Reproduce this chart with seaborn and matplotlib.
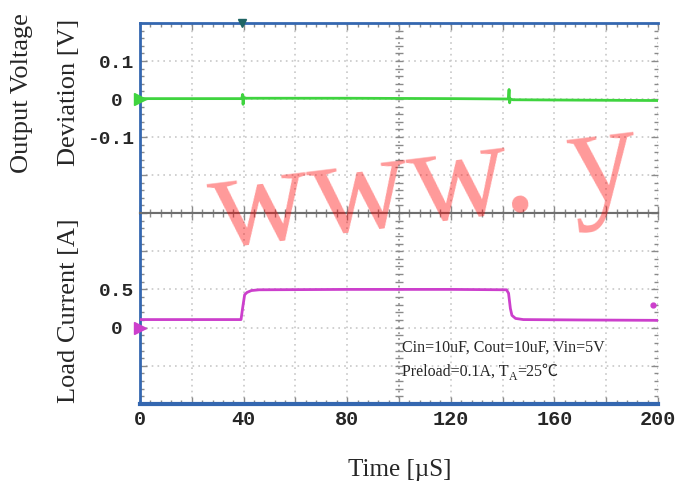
"""Load transient scope capture: output voltage deviation and load current."""

import numpy as np
import pandas as pd
import matplotlib
matplotlib.use('Agg')
import matplotlib.pyplot as plt
from matplotlib.ticker import MultipleLocator
import seaborn as sns

# channel 1: output voltage deviation [V]
time_v = [0, 20, 39.3, 39.6, 39.8, 40.1, 41, 80, 120, 142.2, 142.5, 142.7, 143.0, 144, 170, 200]
dev_v = [0.001, 0.001, 0.001, 0.012, -0.014, 0.004, 0.002, 0.002, 0.001, 0.0, 0.025, -0.01, 0.0, -0.002, -0.003, -0.004]

# channel 2: load current [A]
time_i = [0, 20, 39.0, 39.6, 40.4, 41.3, 43, 46, 80, 120, 141.5, 142.3, 143.0, 143.6, 145, 148, 170, 200]
cur_i = [0.105, 0.105, 0.105, 0.25, 0.43, 0.46, 0.485, 0.495, 0.5, 0.5, 0.495, 0.45, 0.25, 0.16, 0.12, 0.105, 0.1, 0.095]

trig_time = 39.5
trig_level = 0.3

x_ticks = [0, 20, 40, 60, 80, 100, 120, 140, 160, 180, 200]
x_labels = ['0', '', '40', '', '80', '', '120', '', '160', '', '200']
v_ticks = [-0.3, -0.2, -0.1, 0, 0.1, 0.2]
v_labels = ['', '', '-0.1', '0 ', '0.1', '']
i_ticks = [-1.0, -0.5, 0, 0.5, 1.0, 1.5]
i_labels = ['', '', '0 ', '0.5', '', '']

note_1 = 'Cin=10uF, Cout=10uF, Vin=5V'
note_2 = 'Preload=0.1A, T'

GREEN = '#3fd43f'
MAGENTA = '#cc3fcc'
BLUE = '#3467b0'
GRID = '#c8c8c8'
TICK = '#8a8a8a'
SERIF = 'Liberation Serif'
MONO = 'Liberation Mono'

sns.set_style('white')

W, H = 685, 496
fig = plt.figure(figsize=(W / 100, H / 100), dpi=100)
ax1 = fig.add_axes([140 / W, 1 - 213 / H, 518 / W, 190 / H])
ax2 = fig.add_axes([140 / W, 1 - 404 / H, 518 / W, 191 / H], sharex=ax1)

df_v = pd.DataFrame({'t': time_v, 'v': dev_v})
df_i = pd.DataFrame({'t': time_i, 'i': cur_i})
sns.lineplot(data=df_v, x='t', y='v', ax=ax1, color=GREEN, lw=2,
             estimator=None, sort=False, zorder=4)
sns.lineplot(data=df_i, x='t', y='i', ax=ax2, color=MAGENTA, lw=2,
             estimator=None, sort=False, zorder=4)

ax1.set_xlim(0, 200)
ax1.set_ylim(-0.3, 0.2)
ax2.set_ylim(-1.0, 1.5)

for ax, ticks, labels, minor in [(ax1, v_ticks, v_labels, 0.02),
                                 (ax2, i_ticks, i_labels, 0.1)]:
    ax.set_xticks(x_ticks)
    ax.set_yticks(ticks)
    ax.set_yticklabels(labels)
    ax.xaxis.set_minor_locator(MultipleLocator(4))
    ax.yaxis.set_minor_locator(MultipleLocator(minor))
    ax.grid(True, which='major', color=GRID, ls=(0, (1, 2.5)), lw=1.2)
    ax.tick_params(which='both', direction='in', color=TICK, width=1,
                   top=True, bottom=True, left=True, right=True)
    ax.tick_params(which='major', length=5)
    ax.tick_params(which='minor', length=3)
    ax.tick_params(axis='y', pad=4)
    ax.set_xlabel('')
    ax.set_ylabel('')
    for lab in ax.get_yticklabels():
        lab.set_fontfamily(MONO)
        lab.set_fontweight('bold')
        lab.set_fontsize(14)
    ax.spines['right'].set_visible(False)
    ax.spines['left'].set_color(BLUE)
    ax.spines['left'].set_linewidth(2)
    # centre vertical line of the scope graticule
    ax.axvline(100, color='#9a9a9a', ls=(0, (1, 2.5)), lw=1.2, zorder=1)
    yminor = np.arange(ax.get_ylim()[0], ax.get_ylim()[1] + 1e-9, minor)
    ax.plot(np.full(len(yminor), 100), yminor, ls='none', marker='_',
            ms=6, color=TICK, zorder=1)

ax1.tick_params(axis='x', labelbottom=False)
ax2.set_xticklabels(x_labels)
for lab in ax2.get_xticklabels():
    lab.set_fontfamily(MONO)
    lab.set_fontweight('bold')
    lab.set_fontsize(14.5)
ax2.tick_params(axis='x', pad=4)

ax1.spines['top'].set_color(BLUE)
ax1.spines['top'].set_linewidth(2)
ax1.spines['bottom'].set_color('#6e6e6e')
ax1.spines['bottom'].set_linewidth(1.5)
ax2.spines['top'].set_color('#6e6e6e')
ax2.spines['top'].set_linewidth(1.5)
ax2.spines['bottom'].set_color(BLUE)
ax2.spines['bottom'].set_linewidth(3)

# scope markers: channel grounds, trigger position and level
ax1.plot([0], [0], marker='>', ms=9, color=GREEN, clip_on=False, zorder=5)
ax2.plot([0], [0], marker='>', ms=8, color=MAGENTA, clip_on=False, zorder=5)
ax1.plot([trig_time], [0.2], marker='v', ms=6, color='#1e6464',
         clip_on=False, zorder=5)
ax2.plot([198], [trig_level], marker='o', ms=3.5, color=MAGENTA,
         clip_on=False, zorder=5)

# test conditions
ax2.text(0.506, 0.272, note_1, transform=ax2.transAxes, family=SERIF,
         fontsize=11.5, va='baseline', zorder=6)
t1 = ax2.text(0.506, 0.147, note_2, transform=ax2.transAxes, family=SERIF,
              fontsize=11.5, va='baseline', zorder=6)
t2 = ax2.annotate('A', xy=(1, 0), xycoords=t1, xytext=(0, -2),
                  textcoords='offset points', family=SERIF, fontsize=8.5,
                  va='bottom', zorder=6)
ax2.annotate('=25\u2103', xy=(1, 0), xycoords=(t2, t1),
             family=[SERIF, 'Noto Sans CJK SC'], fontsize=11.5,
             va='bottom', zorder=6)

# axis titles
fig.text(22 / W, 1 - 93 / H, 'Output Voltage', rotation=90, ha='center',
         va='center', family=SERIF, fontsize=19)
fig.text(69 / W, 1 - 92 / H, 'Deviation [V]', rotation=90, ha='center',
         va='center', family=SERIF, fontsize=19)
fig.text(69 / W, 1 - 311 / H, 'Load Current [A]', rotation=90, ha='center',
         va='center', family=SERIF, fontsize=19)
fig.text(400 / W, 1 - 470 / H, 'Time [\u00b5S]', ha='center', va='center',
         family=SERIF, fontsize=18)

# site watermark over the capture
fig.text(203 / W, 1 - 248 / H, 'www. y', rotation=7, family=SERIF,
         fontsize=100, color='red', alpha=0.4, ha='left', va='baseline',
         zorder=10)

fig.savefig('out.png', dpi=100)
